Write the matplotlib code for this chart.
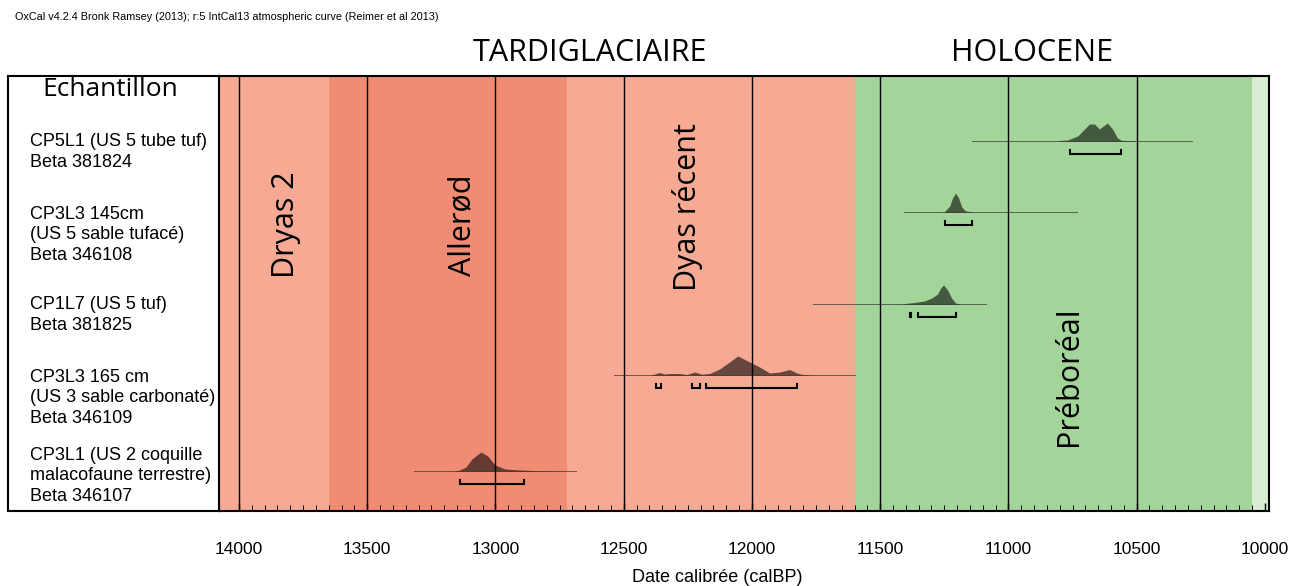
import numpy as np
import matplotlib
matplotlib.use('Agg')
import matplotlib.pyplot as plt

# ---- data ----
sample_labels = [
    'CP5L1 (US 5 tube tuf)\nBeta 381824',
    'CP3L3 145cm\n(US 5 sable tufacé)\nBeta 346108',
    'CP1L7 (US 5 tuf)\nBeta 381825',
    'CP3L3 165 cm\n(US 3 sable carbonaté)\nBeta 346109',
    'CP3L1 (US 2 coquille\nmalacofaune terrestre)\nBeta 346107',
]

# probability curves (calBP, relative height)
d1_x = [10801, 10769, 10730, 10703, 10684, 10664, 10645, 10625, 10614, 10594, 10575, 10559, 10508, 10489]
d1_y = [0.5, 1, 5, 12, 17, 17, 12, 16, 18, 12, 3, 0.7, 0.2, 0]
d2_x = [11260, 11249, 11229, 11218, 11206, 11194, 11182, 11167, 11132]
d2_y = [0, 0.5, 6, 14, 19, 14, 5, 1, 0]
d3_x = [11420, 11404, 11366, 11327, 11299, 11276, 11264, 11253, 11237, 11222, 11206, 11190]
d3_y = [0, 0.5, 1.5, 3, 6, 10, 16, 19, 14, 6, 1, 0]
d4_x = [12398, 12379, 12363, 12340, 12320, 12281, 12254, 12223, 12196, 12165, 12126, 12055,
        11970, 11931, 11892, 11853, 11825, 11802, 11755]
d4_y = [0, 1, 2.5, 1, 1.5, 1.5, 0.5, 3, 0.8, 1.5, 6, 19, 8, 2, 3, 5.5, 2, 0.5, 0]
d5_x = [13160, 13139, 13115, 13092, 13057, 13030, 13002, 12963, 12905, 12827, 12749]
d5_y = [0, 1, 4, 12, 19, 15, 6, 2, 1, 0.3, 0]
dist_x = [d1_x, d2_x, d3_x, d4_x, d5_x]
dist_y = [d1_y, d2_y, d3_y, d4_y, d5_y]

# extent of the thin base line for each sample
line_from = [11143, 11408, 11763, 12539, 13318]
line_to = [10286, 10734, 11089, 11600, 12687]

# 95.4% ranges
ranges = [
    [(10758, 10563)],
    [(11249, 11143)],
    [(11385, 11378), (11354, 11206)],
    [(12375, 12356), (12235, 12204), (12180, 11825)],
    [(13139, 12889)],
]

# periods (start, end calBP)
periods = [(14078, 13650), (13650, 12720), (12720, 11600), (11600, 10050), (10050, 9984)]
period_colors = ['#F6A993', '#F08B74', '#F6A993', '#A3D49A', '#D8EBD3']
period_names = ['Dryas 2', 'Allerød', 'Dyas récent', 'Préboréal']

# ---- layout ----
row_y = [141, 212, 304, 375, 471]
label_y = [152, 235, 315, 398, 476]

plt.rcParams['font.family'] = ['Liberation Sans', 'DejaVu Sans']

fig = plt.figure(figsize=(13.06, 5.86), dpi=100)
fig.patch.set_facecolor('white')

ax = fig.add_axes([219 / 1306, 1 - 511 / 586, 1050 / 1306, 435 / 586])
axl = fig.add_axes([8 / 1306, 1 - 511 / 586, 211 / 1306, 435 / 586])

ax.set_xlim(14078, 9984)
ax.set_ylim(511, 76)

for (a, b), c in zip(periods, period_colors):
    ax.axvspan(a, b, color=c, lw=0, zorder=0)

for xv in [14000, 13500, 13000, 12500, 12000, 11500, 11000, 10500]:
    ax.axvline(xv, color='black', lw=1, zorder=1)

for i in range(5):
    ax.plot([line_from[i], line_to[i]], [row_y[i], row_y[i]], color='#333333', lw=0.7, alpha=0.7, zorder=2)
    yb = row_y[i] - np.array(dist_y[i])
    ax.fill_between(dist_x[i], row_y[i], yb, color='black', alpha=0.58, lw=0, zorder=3)
    for a, b in ranges[i]:
        yr = row_y[i] + 13
        ax.plot([a, a, b, b], [yr - 4, yr, yr, yr - 4], color='black', lw=1.5, zorder=4,
                solid_joinstyle='miter')

# period names (rotated)
band_font = ['Open Sans', 'DejaVu Sans']
ax.text(13817, 225, period_names[0], rotation=90, ha='center', va='center', fontsize=22, family=band_font)
ax.text(13130, 225, period_names[1], rotation=90, ha='center', va='center', fontsize=22, family=band_font)
ax.text(12250, 207, period_names[2], rotation=90, ha='center', va='center', fontsize=22, family=band_font)
ax.text(10765, 376, period_names[3], rotation=90, ha='center', va='center', fontsize=22, family=band_font)

# top headings
ax.text(12632, 53, 'TARDIGLACIAIRE', ha='center', va='center', fontsize=22, family=band_font, clip_on=False)
ax.text(10906, 53, 'HOLOCENE', ha='center', va='center', fontsize=22, family=band_font, clip_on=False)

# axis ticks
ax.set_xticks([14000, 13500, 13000, 12500, 12000, 11500, 11000, 10500, 10000])
ax.set_xticklabels(['14000', '13500', '13000', '12500', '12000', '11500', '11000', '10500', '10000'],
                   fontsize=12.5)
ax.set_xticks(np.arange(10000, 14050, 50), minor=True)
ax.tick_params(axis='x', which='major', direction='in', length=6, width=1, pad=22)
ax.tick_params(axis='x', which='minor', direction='in', length=4, width=0.7)
ax.set_yticks([])
for s in ax.spines.values():
    s.set_linewidth(1.5)
fig.text(717 / 1306, 1 - 577 / 586, 'Date calibrée (calBP)', fontsize=13, ha='center', va='center')

# left panel
axl.set_xlim(0, 211)
axl.set_ylim(511, 76)
axl.set_xticks([])
axl.set_yticks([])
for s in axl.spines.values():
    s.set_linewidth(1.5)
axl.text(34, 90, 'Echantillon', ha='left', va='center', fontsize=19, family=band_font)
for txt, yy in zip(sample_labels, label_y):
    axl.text(22, yy, txt, ha='left', va='center', fontsize=13, linespacing=1.28)

fig.text(15 / 1306, 1 - 17 / 586,
         'OxCal v4.2.4 Bronk Ramsey (2013); r:5 IntCal13 atmospheric curve (Reimer et al 2013)',
         fontsize=7.8, ha='left', va='center')

plt.savefig('out.png', dpi=100)
